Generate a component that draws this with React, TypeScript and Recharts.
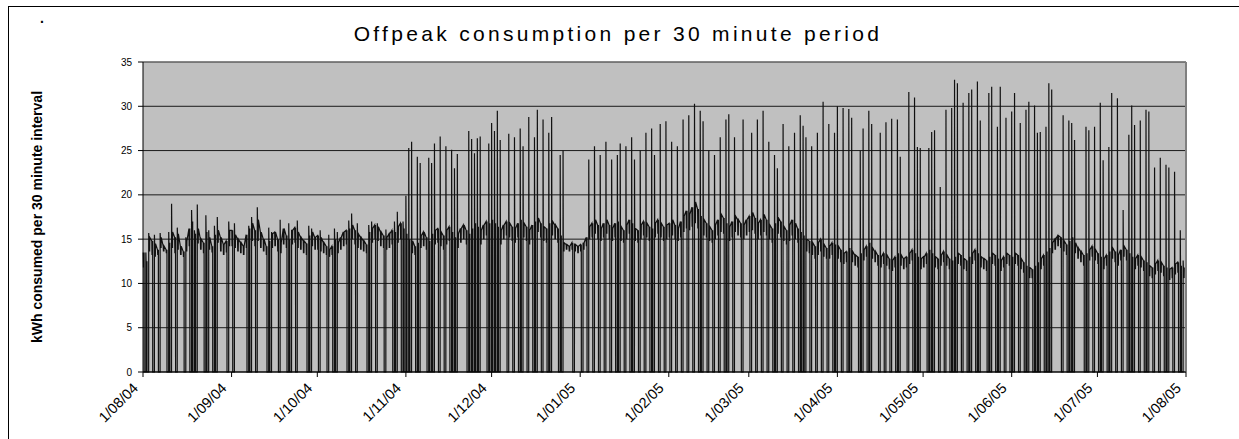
import React from 'react'
import { LineChart, Line, XAxis, YAxis, CartesianGrid, ReferenceLine } from 'recharts'

// day offsets (from 1/08/04) of the month ticks
const monthTicks = [0, 31, 61, 92, 122, 153, 184, 212, 243, 273, 304, 334, 365]
const monthLabels = ['1/08/04', '1/09/04', '1/10/04', '1/11/04', '1/12/04', '1/01/05', '1/02/05',
  '1/03/05', '1/04/05', '1/05/05', '1/06/05', '1/07/05', '1/08/05']
const kwhTicks = [0, 5, 10, 15, 20, 25, 30, 35]

// first reading after the peak period (0 = no drop to zero that day), one per day
const restartKwh = [
  0, 13.5, 15.7, 0, 15.5, 0, 15.7, 0, 0, 15.8, 19, 0, 16.3, 0, 0, 15.2, 0, 18.3, 16, 18.9, 0, 0, 17.7, 16, 0, 16.5, 17.5, 0, 0, 0, 17,
  0, 16.8, 0, 0, 0, 0, 16.5, 17.5, 0, 18.6, 0, 0, 0, 16.3, 15.8, 0, 0, 17.2, 0, 0, 16.8, 16, 0, 17.1, 0, 0, 0, 16.5, 16.2, 0,
  0, 16, 0, 0, 15.5, 0, 16.2, 15.8, 0, 0, 0, 17.1, 17.9, 0, 16.8, 0, 0, 0, 16.6, 17, 0, 16.8, 0, 0, 16.1, 0, 0, 17, 18.1, 0, 17,
  19.9, 25.3, 26, 0, 24.3, 23.6, 0, 0, 24.2, 23.6, 25.8, 0, 26.6, 0, 25.5, 0, 25.1, 23, 24.6, 0, 0, 0, 27.2, 26.3, 24.7, 26.4, 26.6, 0, 0, 25.8,
  28.1, 27.2, 29.5, 26.2, 0, 0, 26.9, 0, 26.5, 0, 27.5, 25.5, 0, 28.8, 0, 26.5, 29.6, 0, 28.5, 0, 27, 28.8, 0, 0, 24.5, 25, 0, 0, 0, 14.5, 0,
  0, 14.5, 0, 24, 0, 25.5, 0, 24.5, 0, 26, 0, 24, 0, 24.5, 25.8, 0, 25.5, 0, 26.5, 24, 0, 25, 0, 27, 0, 27.5, 24.5, 0, 28, 0, 28.3,
  0, 26, 0, 25.5, 0, 28.5, 0, 29, 0, 30.3, 0, 29.5, 28.3, 0, 25, 0, 24.5, 0, 26.5, 0, 28.5, 29.1, 0, 26.5, 0, 0, 28.5, 0,
  0, 27, 0, 28.5, 0, 29.5, 0, 26, 0, 24.5, 23, 0, 28, 0, 25.5, 0, 27, 0, 29, 27.8, 26.5, 0, 25.5, 0, 27, 0, 30.5, 0, 28, 0, 27,
  30, 0, 29.8, 0, 29.7, 28.7, 0, 0, 25, 27.5, 0, 29.5, 28, 0, 0, 27, 0, 28.2, 0, 28.6, 0, 28.5, 24.3, 0, 0, 31.6, 0, 31, 25.4, 25.3,
  0, 0, 25.3, 27.1, 27.3, 0, 20.9, 0, 29.6, 0, 29.8, 33, 32.6, 0, 30.4, 0, 31.5, 31.9, 0, 32.8, 28.4, 0, 0, 31.5, 32.2, 0, 27.7, 32.2, 0, 28.7, 0,
  29.4, 31.5, 0, 28.1, 0, 29.6, 30.5, 0, 30.1, 27, 27.1, 0, 27.7, 32.6, 31.9, 0, 0, 0, 29, 0, 28.4, 28.1, 26.2, 0, 0, 0, 27.7, 27.3, 0, 27.7,
  0, 30.4, 23.9, 0, 25.4, 31.5, 0, 30.9, 0, 18.3, 0, 26.8, 30.1, 27.9, 0, 28.4, 0, 29.6, 29.4, 0, 23.1, 0, 24.2, 0, 23.4, 23.1, 0, 22.6, 0, 16, 12.6,
]

// usual overnight level, one per day
const levelKwh = [
  13.5, 12.5, 15.2, 14.8, 14.5, 13.8, 15.2, 14.2, 13.8, 14.6, 15.8, 15.2, 15.6, 14.2, 13.6, 14.8, 16.2, 17, 15.6, 16.2, 15, 14.6, 15.8, 15.2, 14.2, 15.5, 16, 15.2, 14.4, 14.8, 16,
  16, 15.5, 15, 14.6, 14.2, 15.5, 16.2, 16.8, 16, 17.2, 15.8, 15, 14.2, 14.8, 15.6, 15.8, 15, 14.6, 16.2, 15.4, 15, 16, 16.3, 15.8, 15.2, 14.8, 14.5, 15.4, 15.8, 15.2,
  15.4, 15.2, 14.6, 14.2, 13.8, 14.2, 15, 14.6, 15.2, 15.8, 16, 16.2, 16.6, 16, 15.6, 15.2, 14.8, 14.4, 15.8, 16.2, 16.6, 16.4, 15.8, 15.4, 15.2, 15.6, 16, 15.8, 16.4, 16.8, 16.2,
  15.6, 15, 14.8, 14.2, 14.6, 15.4, 15.8, 15.2, 14.8, 15.6, 16, 16.2, 15.8, 15.4, 16, 16.4, 15.8, 15.2, 15.6, 16.2, 16.6, 16, 15.6, 16.2, 16.8, 16.4, 16, 16.6, 17, 16.8,
  17.2, 16.8, 16.4, 16, 16.6, 17, 16.8, 16.4, 16.2, 16.8, 17.2, 16.8, 16.4, 16, 16.6, 17, 17.4, 16.8, 16.4, 16.2, 16.8, 17, 16.6, 16.2, 15.4, 14.6, 14.4, 14.2, 14.6, 14.4, 14.2,
  14.4, 14.6, 15.2, 16.4, 16.8, 17.2, 16.6, 16.2, 16.8, 17.2, 16.6, 16.2, 16.8, 17, 16.4, 16, 16.6, 17.2, 16.8, 16.2, 16, 16.6, 17, 16.8, 16.4, 16.2, 16.8, 17.2, 16.8, 16.4, 16.6,
  16.8, 17.2, 16.6, 16.2, 17, 17.6, 18.2, 17.8, 18.6, 19.2, 18.4, 17.6, 17.2, 16.8, 16.4, 16, 16.6, 17.2, 17.8, 17.4, 16.8, 16.4, 17, 17.6, 17.2, 16.8, 16.6, 17.2,
  17.6, 18, 17.4, 16.8, 17.2, 17.8, 17.2, 16.6, 16.2, 16.8, 17.4, 17, 16.4, 16, 16.6, 17.2, 16.8, 16.2, 15.8, 15.4, 15, 14.8, 14.6, 14.2, 14.6, 15, 14.4, 14, 14.2, 14.6, 14.4,
  14.2, 13.8, 13.4, 13.6, 14, 13.6, 13.2, 13, 13.4, 13.8, 14.2, 14.6, 14, 13.6, 13.2, 13, 13.4, 13.2, 12.8, 12.6, 13, 13.4, 13.2, 12.8, 13, 13.4, 13.8, 13.4, 13, 12.8,
  13, 13.4, 13.8, 13.4, 13, 12.8, 13.2, 13.6, 13.2, 12.8, 12.6, 13, 13.4, 13.2, 12.8, 12.6, 13, 13.4, 13.8, 13.4, 13, 12.8, 12.6, 13, 13.4, 13.2, 12.8, 12.6, 13, 13.4, 13.2,
  13, 13.4, 13.2, 12.8, 12.4, 12, 11.8, 11.6, 12, 12.4, 12.8, 13.2, 13.6, 14, 14.6, 15, 15.4, 15.2, 14.8, 14.4, 14.8, 15.2, 14.6, 14, 13.6, 13.2, 13.4, 13.8, 14.2, 13.8,
  13.4, 13, 12.8, 13.2, 13.6, 14, 13.6, 13.2, 13.8, 14.2, 13.8, 13.4, 13, 12.8, 13.2, 13, 12.6, 12.4, 12, 11.8, 12.2, 12.6, 12.4, 12, 11.8, 11.6, 11.8, 12.2, 12.4, 12, 11.8,
]

// lowest overnight reading, one per day
const dipKwh = [
  11.8, 11.2, 13.6, 13.2, 13, 13.2, 14, 13.6, 13.4, 13.2, 14, 13.4, 13.8, 13.2, 13, 13.6, 14.2, 15, 14.2, 14.5, 13.8, 13.4, 14.4, 13.8, 13.5, 14, 14.6, 13.6, 13.2, 13.5, 14.2,
  14.2, 14, 13.6, 13.4, 13.2, 14, 14.4, 14.8, 14.2, 14.8, 14, 13.6, 13.2, 13.4, 14, 14.2, 13.6, 13.4, 14.4, 14, 13.6, 14.4, 14.6, 14, 13.8, 13.4, 13.2, 13.6, 14.2, 13.8,
  13.8, 13.6, 13.4, 13.2, 13, 13.2, 13.6, 13.4, 13.8, 14.2, 14.4, 14.6, 15, 14.4, 14, 13.8, 13.6, 13.4, 14.2, 14.6, 15, 14.8, 14.2, 14, 13.8, 14, 14.4, 14.2, 14.6, 15, 14.6,
  14, 13.6, 13.4, 13.2, 13.4, 14, 14.2, 13.8, 13.4, 14, 14.4, 14.6, 14.2, 13.8, 14.4, 14.8, 14.2, 13.8, 14, 14.6, 15, 14.4, 14, 14.6, 15, 14.8, 14.4, 15, 15.4, 15.2,
  15.4, 15, 14.8, 14.4, 15, 15.4, 15.2, 14.8, 14.6, 15.2, 15.6, 15.2, 14.8, 14.4, 15, 15.4, 15.8, 15.2, 14.8, 14.6, 15.2, 15.4, 15, 14.6, 14, 13.6, 13.8, 13.6, 13.8, 13.6, 13.4,
  13.6, 13.8, 14.2, 15, 15.2, 15.6, 15, 14.8, 15.2, 15.6, 15, 14.8, 15.2, 15.4, 14.8, 14.6, 15, 15.6, 15.2, 14.8, 14.6, 15, 15.4, 15.2, 14.8, 14.6, 15.2, 15.6, 15.2, 14.8, 15,
  15.2, 15.4, 15, 14.8, 15.2, 15.8, 16.2, 16, 16.4, 16.8, 16.2, 15.8, 15.4, 15.2, 14.8, 14.6, 15, 15.4, 15.8, 15.6, 15.2, 14.8, 15.2, 15.8, 15.4, 15.2, 15, 15.4,
  15.8, 16, 15.6, 15, 15.4, 15.8, 15.4, 15, 14.6, 15, 15.6, 15.2, 14.8, 14.4, 14.8, 15.4, 15, 14.6, 14.2, 13.8, 13.6, 13.4, 13.2, 12.8, 13.2, 13.6, 13, 12.8, 12.8, 13.2, 13,
  12.8, 12.4, 12.2, 12.4, 12.8, 12.4, 12, 11.8, 12.2, 12.6, 13, 13.2, 12.8, 12.4, 12, 11.8, 12.2, 12, 11.6, 11.4, 11.8, 12.2, 12, 11.6, 11.8, 12.2, 12.6, 12.2, 11.8, 11.6,
  11.8, 12.2, 12.6, 12.2, 11.8, 11.6, 12, 12.4, 12, 11.6, 11.4, 11.8, 12.2, 12, 11.6, 11.4, 11.8, 12.2, 12.6, 12.2, 11.8, 11.6, 11.4, 11.8, 12.2, 12, 11.6, 11.4, 11.8, 12.2, 12,
  11.8, 12.2, 12, 11.6, 11.2, 10.8, 10.6, 10.6, 10.8, 11.2, 11.6, 12, 12.4, 12.8, 13.4, 13.8, 14.2, 14, 13.6, 13.2, 13.6, 14, 13.4, 12.8, 12.4, 12, 12.2, 12.6, 13, 12.6,
  12.2, 11.8, 11.6, 12, 12.4, 12.8, 12.4, 12, 12.6, 13, 12.6, 12.2, 11.8, 11.6, 12, 11.8, 11.4, 11.2, 10.8, 10.6, 11, 11.4, 11.2, 10.8, 10.6, 10.4, 10.6, 11, 11.2, 10.8, 10.6,
]

// readings laid out through each day: zero during the peak period, then restart, level, dip
const series: { t: number; kwh: number }[] = []
restartKwh.forEach((restart, d) => {
  if (restart > 0) {
    series.push({ t: d - 0.6, kwh: 0 }, { t: d - 0.02, kwh: 0 }, { t: d, kwh: restart })
  }
  const lv = levelKwh[d]
  const dp = dipKwh[d]
  series.push(
    { t: d + 0.08, kwh: lv }, { t: d + 0.16, kwh: dp }, { t: d + 0.24, kwh: lv },
    { t: d + 0.32, kwh: dp }, { t: d + 0.38, kwh: lv },
  )
})

const FONT = "'Liberation Sans', Arial, sans-serif"

function MonthTick(props: any) {
  const { x, y, payload } = props
  const label = monthLabels[monthTicks.indexOf(payload.value)]
  const ax = x - 4
  const ay = y + 10
  return (
    <text x={ax} y={ay} textAnchor="end" fontSize={14.5} fontFamily={FONT} fill="#000"
      transform={`rotate(-45, ${ax}, ${ay})`}>
      {label}
    </text>
  )
}

export default function App() {
  return (
    <div style={{ position: 'absolute', left: 0, top: 0, width: 1239, height: 439, overflow: 'hidden', background: '#fff' }}>
      {/* chart frame */}
      <div style={{ position: 'absolute', left: 8, top: 6, width: 1231, height: 1, background: '#000' }} />
      <div style={{ position: 'absolute', left: 8, top: 6, width: 1, height: 433, background: '#000' }} />
      <div style={{ position: 'absolute', left: 9, top: 7, width: 1230, height: 432 }}>
        <div style={{ position: 'absolute', left: 31, top: 3, fontSize: 14, fontWeight: 'bold', fontFamily: FONT, lineHeight: '16px' }}>.</div>
        <div style={{
          position: 'absolute', left: 0, top: 15, width: 1218, textAlign: 'center',
          fontSize: 21, lineHeight: '24px', letterSpacing: 3.3, fontFamily: FONT, color: '#000',
        }}>
          Offpeak consumption per 30 minute period
        </div>
        <div style={{
          position: 'absolute', left: 28 - 150, top: 210 - 10, width: 300, height: 20, lineHeight: '20px',
          textAlign: 'center', transform: 'rotate(-90deg)', fontSize: 14, fontWeight: 'bold',
          fontFamily: "'Liberation Sans Narrow', 'Arial Narrow', 'Liberation Sans', Arial, sans-serif",
        }}>
          kWh consumed per 30 minute interval
        </div>
        <LineChart width={1230} height={431} data={series} margin={{ top: 55, right: 53, left: 94, bottom: 6 }}>
          <CartesianGrid vertical={false} stroke="#1a1a1a" fill="#c0c0c0" fillOpacity={1} />
          <XAxis type="number" dataKey="t" domain={[0, 365]} ticks={monthTicks} interval={0} height={60}
            tick={<MonthTick />} tickSize={5} stroke="#000" tickLine={{ stroke: '#000' }} axisLine={{ stroke: '#000' }} />
          <YAxis type="number" domain={[0, 35]} ticks={kwhTicks} interval={0} width={40} tickSize={5} tickMargin={6}
            tick={{ fontSize: 10, fill: '#000', fontFamily: FONT }} axisLine={{ stroke: '#000' }} tickLine={{ stroke: '#000' }} />
          <ReferenceLine y={35} stroke="#808080" />
          <ReferenceLine x={365} stroke="#808080" strokeWidth={2} />
          <Line type="linear" dataKey="kwh" stroke="#111" strokeWidth={1.2} dot={false} activeDot={false}
            isAnimationActive={false} />
        </LineChart>
      </div>
    </div>
  )
}
